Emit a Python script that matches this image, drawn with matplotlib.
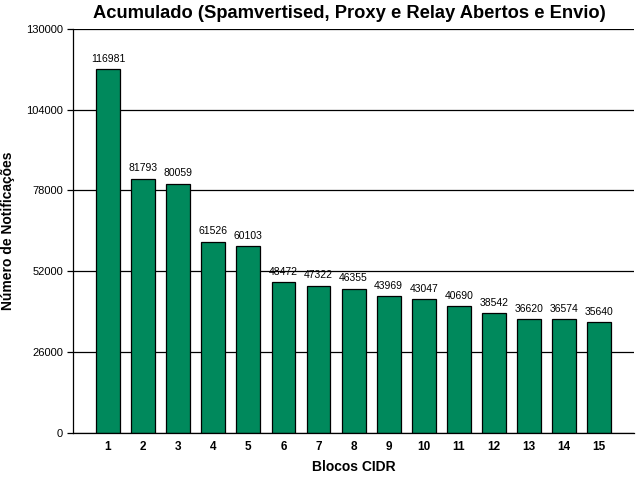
import matplotlib
matplotlib.use('Agg')
import matplotlib.pyplot as plt

plt.rcParams['font.family'] = ['Liberation Sans', 'DejaVu Sans']

categories = [str(i) for i in range(1, 16)]
values = [116981, 81793, 80059, 61526, 60103, 48472, 47322, 46355, 43969, 43047, 40690, 38542, 36620, 36574, 35640]
yticks = [0, 26000, 52000, 78000, 104000, 130000]

fig = plt.figure(figsize=(6.4, 4.8), dpi=100)
ax = fig.add_axes([0.114, 0.098, 0.877, 0.842])
x = list(range(1, 16))
ax.set_axisbelow(True)
ax.yaxis.grid(True, color='black', linewidth=0.9)
bars = ax.bar(x, values, width=0.68, color='#00895C', edgecolor='black', linewidth=0.9)
for xi, v in zip(x, values):
    ax.text(xi, v + 1800, str(v), ha='center', va='bottom', fontsize=7.5)
ax.set_xlim(0, 16)
ax.set_ylim(0, 130000)
ax.set_yticks(yticks)
ax.set_yticklabels([str(t) for t in yticks], fontsize=8)
ax.set_xticks(x)
ax.set_xticklabels(categories, fontsize=8.5, fontweight='bold')
ax.tick_params(axis='x', length=0, pad=6)
ax.tick_params(axis='y', length=4, width=0.9, pad=3)
for s in ['top', 'right']:
    ax.spines[s].set_visible(False)
for s in ['left', 'bottom']:
    ax.spines[s].set_linewidth(0.9)
ax.set_xlabel('Blocos CIDR', fontsize=10, fontweight='bold', labelpad=5)
ax.set_ylabel('Número de Notificações', fontsize=10, fontweight='bold', labelpad=8)
fig.suptitle('Acumulado (Spamvertised, Proxy e Relay Abertos e Envio)', fontsize=13.2, fontweight='bold', x=0.546, y=0.99)
fig.savefig('out.png', dpi=100)
